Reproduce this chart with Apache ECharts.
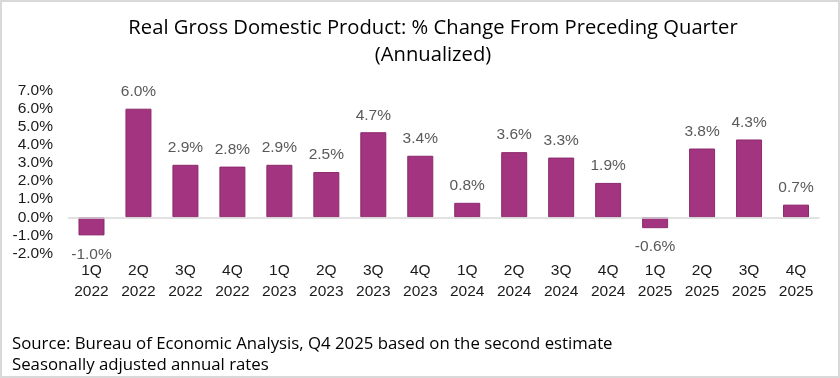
<!DOCTYPE html>
<html>
<head>
<meta charset="utf-8">
<script src="https://cdn.jsdelivr.net/npm/echarts@6/dist/echarts.min.js"></script>
<style>
html,body{margin:0;padding:0;background:#fff;}
#c{width:840px;height:378px;}
</style>
</head>
<body>
<div id="c"></div>
<script>
const categories = ['1Q\n2022','2Q\n2022','3Q\n2022','4Q\n2022','1Q\n2023','2Q\n2023','3Q\n2023','4Q\n2023','1Q\n2024','2Q\n2024','3Q\n2024','4Q\n2024','1Q\n2025','2Q\n2025','3Q\n2025','4Q\n2025'];
const gdpChange = [-1.0, 6.0, 2.9, 2.8, 2.9, 2.5, 4.7, 3.4, 0.8, 3.6, 3.3, 1.9, -0.6, 3.8, 4.3, 0.7];
const yMin = -2, yMax = 7, yStep = 1;
const titleText = 'Real Gross Domestic Product: % Change From Preceding Quarter\n(Annualized)';
const footerText = 'Source: Bureau of Economic Analysis, Q4 2025 based on the second estimate\nSeasonally adjusted annual rates';

const chart = echarts.init(document.getElementById('c'), null, {renderer:'canvas'});
const labelFont = {fontFamily:'Liberation Sans, Arial, sans-serif', fontSize:15.5};
const barData = gdpChange.map(v => ({
  value: v,
  label: {position: v < 0 ? 'bottom' : 'top', distance: v < 0 ? 11 : 9}
}));
chart.setOption({
  animation:false,
  backgroundColor:'#fff',
  title:[{
    text: titleText,
    left:428, top:10,
    textAlign:'center',
    textStyle:{fontFamily:'Open Sans, sans-serif', fontWeight:'normal', fontSize:20.2, lineHeight:27, color:'#000'}
  },{
    text: footerText,
    left:7, top:329,
    textStyle:{fontFamily:'Open Sans, sans-serif', fontWeight:'normal', fontSize:16.8, lineHeight:20.5, color:'#000'}
  }],
  graphic:[{
    type:'rect', silent:true,
    shape:{x:1,y:1,width:838,height:376},
    style:{fill:'none', stroke:'#d9d9d9', lineWidth:2}
  }],
  grid:{left:68, right:20.5, top:90.6, bottom:124.5},
  xAxis:{
    type:'category', data:categories,
    axisLine:{show:false, onZero:false}, axisTick:{show:false},
    axisLabel:Object.assign({color:'#1a1a1a', lineHeight:21, margin:7, interval:0}, labelFont)
  },
  yAxis:{
    type:'value', min:yMin, max:yMax, interval:yStep,
    axisLine:{show:false}, axisTick:{show:false}, splitLine:{show:false},
    axisLabel:Object.assign({color:'#1a1a1a', margin:15, formatter: v => v.toFixed(1)+'%'}, labelFont)
  },
  series:[{
    type:'bar', data:barData, barWidth:26,
    itemStyle:{color:'#A3347F', borderColor:'#8C2A6C', borderWidth:1},
    label:Object.assign({show:true, color:'#595959', formatter: p => p.value.toFixed(1)+'%'}, labelFont),
    markLine:{
      silent:true, symbol:'none',
      label:{show:false},
      lineStyle:{color:'#d9d9d9', width:1.5, type:'solid'},
      data:[{yAxis:0}]
    }
  }]
});
</script>
</body>
</html>
